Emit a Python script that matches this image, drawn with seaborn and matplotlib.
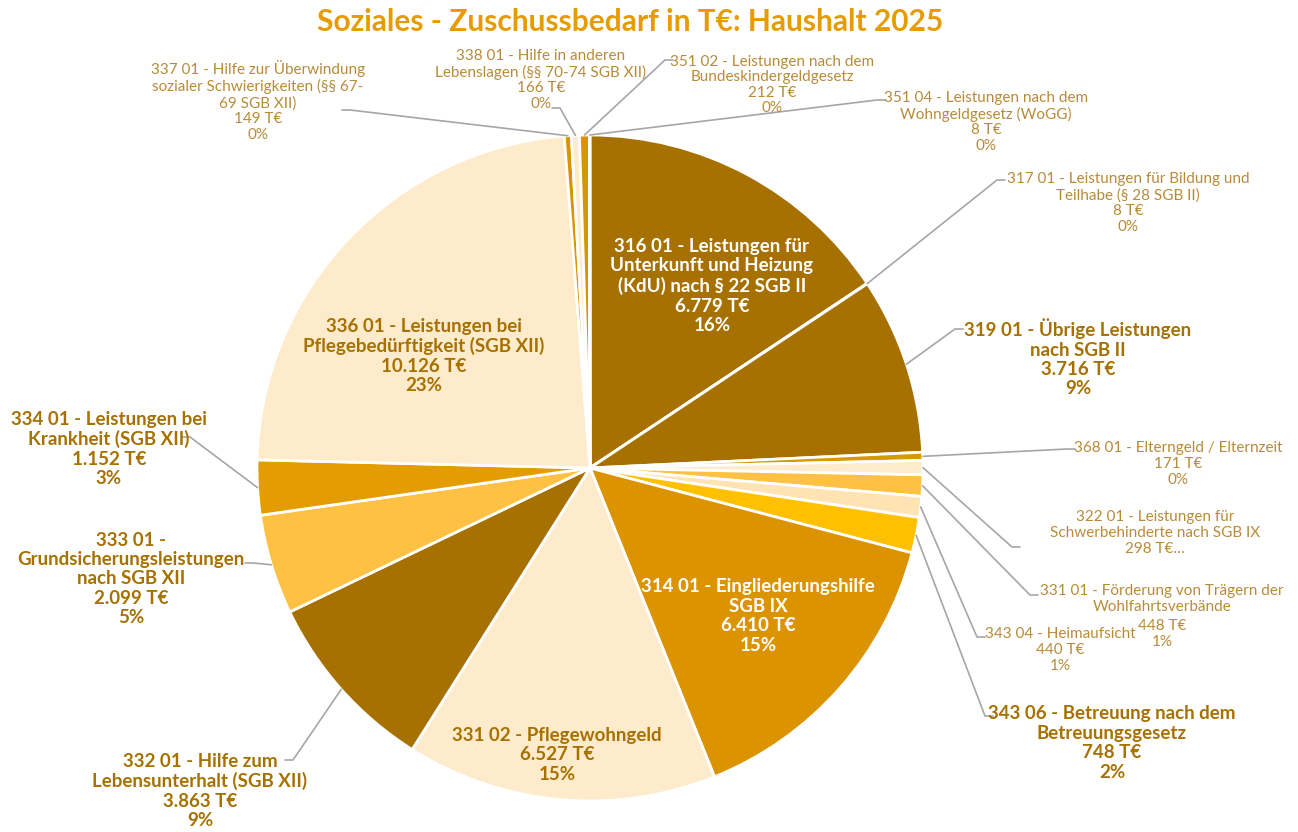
import matplotlib
matplotlib.use('Agg')
import numpy as np
import matplotlib.pyplot as plt
import seaborn as sns

sns.set_theme(style='white')
plt.rcParams['font.family'] = ['Lato', 'DejaVu Sans']

# Daten (im Uhrzeigersinn ab 12 Uhr)
namen = [
    '316 01 - Leistungen für\nUnterkunft und Heizung\n(KdU) nach § 22 SGB II',
    '317 01 - Leistungen für Bildung und\nTeilhabe (§ 28 SGB II)',
    '319 01 - Übrige Leistungen\nnach SGB II',
    '368 01 - Elterngeld / Elternzeit',
    '322 01 - Leistungen für\nSchwerbehinderte nach SGB IX',
    '331 01 - Förderung von Trägern der\nWohlfahrtsverbände',
    '343 04 - Heimaufsicht',
    '343 06 - Betreuung nach dem\nBetreuungsgesetz',
    '314 01 - Eingliederungshilfe\nSGB IX',
    '331 02 - Pflegewohngeld',
    '332 01 - Hilfe zum\nLebensunterhalt (SGB XII)',
    '333 01 -\nGrundsicherungsleistungen\nnach SGB XII',
    '334 01 - Leistungen bei\nKrankheit (SGB XII)',
    '336 01 - Leistungen bei\nPflegebedürftigkeit (SGB XII)',
    '337 01 - Hilfe zur Überwindung\nsozialer Schwierigkeiten (§§ 67-\n69 SGB XII)',
    '338 01 - Hilfe in anderen\nLebenslagen (§§ 70-74 SGB XII)',
    '351 02 - Leistungen nach dem\nBundeskindergeldgesetz',
    '351 04 - Leistungen nach dem\nWohngeldgesetz (WoGG)',
]
werte = [6779, 8, 3716, 171, 298, 448, 440, 748, 6410, 6527, 3863, 2099, 1152, 10126, 149, 166, 212, 8]

dunkel = '#A67100'
orange = '#DB9300'
orange2 = '#E39D00'
hellorange = '#FFC143'
gelb = '#FFC000'
creme = '#FEEBCC'
pfirsich = '#FFE3B3'
gold = '#D49A00'
farben = [dunkel, orange, dunkel, gold, creme, hellorange, pfirsich, gelb, orange,
          creme, dunkel, hellorange, orange2, creme, orange, creme, orange, dunkel]

# Layout der Beschriftungen (Pixel, y von oben) und Ankerpunkte der Führungslinien
layout = {
    0: dict(xy=(712, 286), stil='in_weiss'),
    1: dict(xy=(1128, 203), anker=(997, 180), stil='klein'),
    2: dict(xy=(1078, 358), anker=(955, 329), stil='fett'),
    3: dict(xy=(1178, 464), anker=(1067, 449), stil='klein'),
    4: dict(xy=(1155, 533), anker=(1012, 547), stil='klein'),
    5: dict(xy=(1162, 599), xy2=(1162, 634), anker=(1030, 595), stil='klein'),
    6: dict(xy=(1060, 650), anker=(977, 637), stil='klein'),
    7: dict(xy=(1112, 743), anker=(985, 716), stil='fett'),
    8: dict(xy=(758, 616), stil='in_weiss'),
    9: dict(xy=(557, 755), stil='in_dunkel'),
    10: dict(xy=(200, 791), anker=(293, 760), stil='fett'),
    11: dict(xy=(131, 579), anker=(253, 563), stil='fett'),
    12: dict(xy=(109, 449), anker=(190, 437), stil='fett'),
    13: dict(xy=(424, 356), stil='in_dunkel'),
    14: dict(xy=(258, 101), anker=(350, 110), stil='klein'),
    15: dict(xy=(541, 80), anker=(560, 108), stil='klein'),
    16: dict(xy=(772, 85), anker=(665, 60), stil='klein'),
    17: dict(xy=(986, 122), anker=(877, 100), stil='klein'),
}

W, H = 1298, 832
cx, cy, r = 590, H - 468, 333

fig = plt.figure(figsize=(12.98, 8.32), dpi=100)
ax = fig.add_axes([0, 0, 1, 1])
ax.pie(werte, colors=farben, startangle=90, counterclock=False,
       center=(cx, cy), radius=r,
       wedgeprops=dict(edgecolor='white', linewidth=2))
ax.set_xlim(0, W)
ax.set_ylim(0, H)
ax.set_aspect('equal')
ax.axis('off')

summe = sum(werte)
kum = np.cumsum([0] + werte[:-1]) / summe

stile = {
    'in_weiss': dict(color='white', fontsize=13.5, fontweight='bold', linespacing=1.17),
    'in_dunkel': dict(color=dunkel, fontsize=13.5, fontweight='bold', linespacing=1.17),
    'fett': dict(color=dunkel, fontsize=13.5, fontweight='bold', linespacing=1.17),
    'klein': dict(color='#B88B38', fontsize=11, linespacing=1.15),
}

for i, (name, w) in enumerate(zip(namen, werte)):
    lay = layout[i]
    betrag = f'{w:,}'.replace(',', '.') + ' T€'
    proz = f'{round(w / summe * 100):.0f}%'
    x, y = lay['xy']
    st = stile[lay['stil']]
    if i == 4:
        txt = name + '\n' + betrag + '…'
    elif 'xy2' in lay:
        # Excel hat diese Beschriftung zweigeteilt
        txt = name
        x2, y2 = lay['xy2']
        ax.text(x2, H - y2, betrag + '\n' + proz, ha='center', va='center', **st)
    else:
        txt = name + '\n' + betrag + '\n' + proz
    ax.text(x, H - y, txt, ha='center', va='center', **st)

    if 'anker' in lay:
        mitte = np.deg2rad(90 - 360 * (kum[i] + w / summe / 2))
        ex, ey = cx + r * np.cos(mitte), cy + r * np.sin(mitte)
        axx, ayy = lay['anker'][0], H - lay['anker'][1]
        d = 8 if x > axx else -8
        ax.plot([ex, axx, axx + d], [ey, ayy, ayy], color='#A6A6A6', lw=1.2,
                solid_joinstyle='miter')

ax.text(630, H - 22, 'Soziales - Zuschussbedarf in T€: Haushalt 2025', ha='center',
        va='center', fontsize=21.5, fontweight='bold', color='#E69C00')

fig.savefig('out.png', dpi=100)
